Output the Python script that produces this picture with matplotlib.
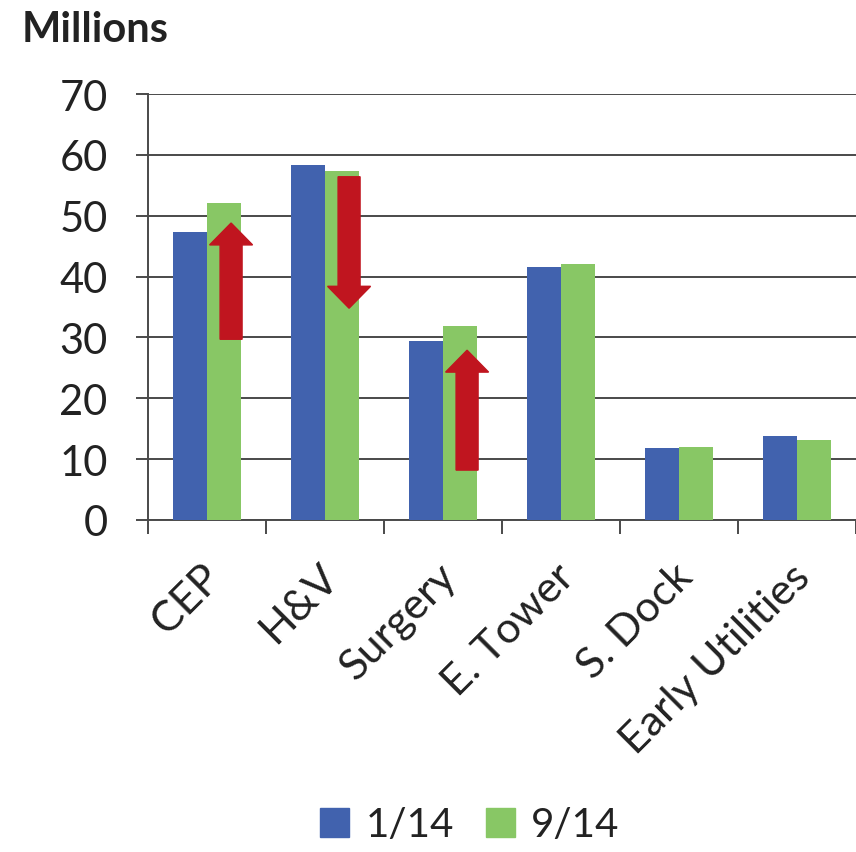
import numpy as np
import matplotlib
matplotlib.use('Agg')
from matplotlib import pyplot as plt
from matplotlib.patches import FancyArrow, Patch

# データ（単位: 百万）
categories = ['CEP', 'H&V', 'Surgery', 'E. Tower', 'S. Dock', 'Early Utilities']
series_names = ['1/14', '9/14']
values_jan = [47.3, 58.3, 29.4, 41.6, 11.8, 13.8]
values_sep = [52.1, 57.3, 31.9, 42.1, 12.0, 13.1]

# 変化を示す矢印（カテゴリ番号, 始点, 終点）
arrow_cats = [0, 1, 2]
arrow_start = [29.7, 56.4, 8.2]
arrow_end = [48.8, 34.8, 27.9]

blue = '#4162ae'
green = '#88c765'
red = '#c0151f'
gridc = '#4a4a4a'
textc = '#222222'

plt.rcParams['font.family'] = ['Lato', 'DejaVu Sans']

fig = plt.figure(figsize=(8.56, 8.53), dpi=100)
ax = fig.add_axes([148 / 856, 1 - 521 / 853, 1 - 148 / 856, (521 - 95) / 853])

x = np.arange(len(categories))
w = 34 / 118
ax.bar(x - w / 2, values_jan, width=w, color=blue, zorder=3)
ax.bar(x + w / 2, values_sep, width=w, color=green, zorder=3)

for c, s, e in zip(arrow_cats, arrow_start, arrow_end):
    xc = c + w / 2 + 0.06
    ax.add_patch(FancyArrow(xc, s, 0, e - s, width=22 / 118, head_width=43 / 118,
                            head_length=3.6, length_includes_head=True,
                            color=red, zorder=4))

ax.set_xlim(-0.5, len(categories) - 0.5)
ax.set_ylim(0, 70)
ax.set_yticks(range(0, 71, 10))
ax.yaxis.grid(True, color=gridc, linewidth=1.4, zorder=0)
ax.set_axisbelow(True)

for side in ['top', 'right']:
    ax.spines[side].set_visible(False)
for side in ['left', 'bottom']:
    ax.spines[side].set_color(gridc)
    ax.spines[side].set_linewidth(1.4)

ax.tick_params(axis='y', length=9, width=1.4, color=gridc, pad=20,
               labelsize=30, labelcolor=textc)
ax.set_xticks(x + 0.06)
ax.set_xticklabels(categories, rotation=45, ha='right', va='center',
                   rotation_mode='anchor', fontsize=31, color=textc)
ax.set_xticks(np.arange(-0.5, len(categories)), minor=True)
ax.tick_params(axis='x', which='major', length=0, pad=36)
ax.tick_params(axis='x', which='minor', length=10, width=1.4, color=gridc)

fig.text(22 / 856, 1 - 30 / 853, 'Millions', fontsize=30, fontweight='bold',
         color=textc, va='center', ha='left')

handles = [Patch(color=blue, label=series_names[0]),
           Patch(color=green, label=series_names[1])]
fig.legend(handles=handles, loc='center', bbox_to_anchor=(470 / 856, 1 - 826 / 853),
           ncol=2, frameon=False, fontsize=29, handlelength=0.72, handleheight=0.72,
           handletextpad=0.4, columnspacing=0.8, labelcolor=textc)

fig.savefig('out.png', dpi=100)
